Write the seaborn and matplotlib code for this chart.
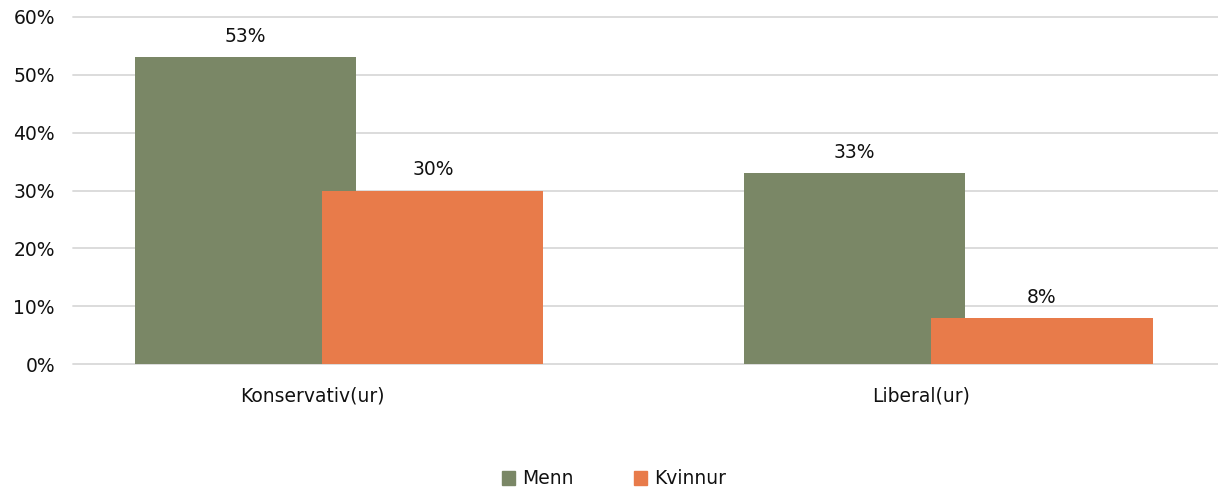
import pandas as pd
import numpy as np
import matplotlib
matplotlib.use("Agg")
from matplotlib import pyplot as plt
from matplotlib.transforms import ScaledTranslation
from matplotlib.ticker import FuncFormatter
import seaborn as sns

# data
categories = ["Konservativ(ur)", "Liberal(ur)"]
menn = [53, 33]
kvinnur = [30, 8]
series_names = ["Menn", "Kvinnur"]
colours = ["#7A8766", "#E87B4A"]

df = pd.DataFrame({
    "category": categories * 2,
    "group": [series_names[0]] * 2 + [series_names[1]] * 2,
    "value": menn + kvinnur,
})

sns.set_style("white")
plt.rcParams["font.family"] = ["DejaVu Sans"]
fs = 13.5

fig = plt.figure(figsize=(12.18, 4.91), dpi=100)
ax = fig.add_axes([73 / 1218, 1 - 364 / 491, 1 - 73 / 1218, (364 - 17) / 491])

sns.barplot(data=df, x="category", y="value", hue="group", hue_order=series_names,
            palette=colours, width=0.726, saturation=1, ax=ax, legend=False)

# bars overlap a bit in the original: pull each pair towards the centre
shift = 0.0275
for cont, sign in zip(ax.containers, [1, -1]):
    for p in cont:
        p.set_x(p.get_x() + sign * shift)
        p.set_linewidth(0)

for cont in ax.containers:
    ax.bar_label(cont, labels=[f"{v:.0f}%" for v in cont.datavalues],
                 padding=8, fontsize=fs, color="#111111")

ax.set_ylim(0, 60)
ax.set_yticks(np.arange(0, 61, 10))
ax.yaxis.set_major_formatter(FuncFormatter(lambda v, pos: f"{v:.0f}%"))
ax.set_xlim(-0.437, 1.443)
ax.grid(axis="y", color="#d9d9d9", linewidth=1.3)
for gl in ax.get_ygridlines():
    gl.set_clip_on(False)
ax.set_axisbelow(True)
for s in ax.spines.values():
    s.set_visible(False)
ax.set_xlabel("")
ax.set_ylabel("")
ax.tick_params(axis="y", length=0, pad=13, labelsize=fs, labelcolor="#111111")
ax.tick_params(axis="x", length=0, pad=16, labelsize=fs, labelcolor="#111111")

# category labels sit a little left of the bar pairs
for lab in ax.get_xticklabels():
    lab.set_transform(lab.get_transform() + ScaledTranslation(-0.27, 0, fig.dpi_scale_trans))

handles = [plt.Rectangle((0, 0), 1, 1, color=c) for c in colours]
leg = fig.legend(handles, series_names, loc="center", bbox_to_anchor=(614 / 1218, 1 - 479 / 491),
                 ncol=2, frameon=False, fontsize=fs, handlelength=0.7, handleheight=0.7,
                 handletextpad=0.4, columnspacing=3.2)
for t in leg.get_texts():
    t.set_color("#111111")

fig.savefig("out.png", dpi=100)
